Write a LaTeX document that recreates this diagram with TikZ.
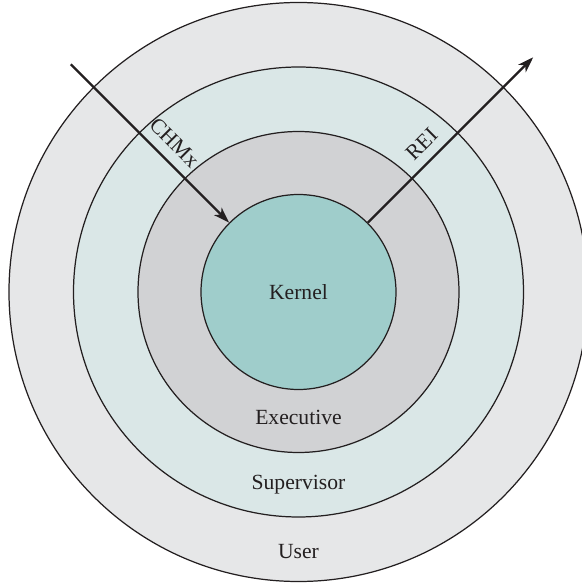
\documentclass[tikz,border=0pt]{standalone}
\usepackage{fontspec}
\setmainfont{Liberation Serif}
\usepackage{tikz}
\usetikzlibrary{arrows.meta,positioning,calc}
\definecolor{ringuser}{RGB}{230,231,232}
\definecolor{ringsup}{RGB}{218,231,231}
\definecolor{ringexe}{RGB}{209,210,212}
\definecolor{ringker}{RGB}{159,205,203}
\definecolor{inkdark}{RGB}{35,31,32}
\tikzset{
  ring/.style={circle, draw=inkdark, line width=0.7pt, inner sep=0pt},
  rtxt/.style={font=\fontsize{12.3}{14}\selectfont, text=inkdark},
  flowarr/.style={-{Stealth[length=9pt,width=6pt,inset=2.5pt]}, inkdark, line width=1.4pt},
}

\begin{document}
\begin{tikzpicture}
    \useasboundingbox (-5.97,-5.82) rectangle (5.65,5.84);
    \node[ring, fill=ringuser, minimum size=11.58cm] (usr) at (0,0) {};
    \node[ring, fill=ringsup, minimum size=9.0cm] (sup) at (0,0) {};
    \node[ring, fill=ringexe, minimum size=6.42cm] (exe) at (0,0) {};
    \node[ring, fill=ringker, minimum size=3.9cm, rtxt] (ker) at (0,0) {Kernel};
    \node[rtxt] (exel) at (0,-2.5) {Executive};
    \node[rtxt] (supl) at (0,-3.86) {Supervisor};
    \node[rtxt] (usrl) at (0,-5.2) {User};
    % in and out of the kernel
    \coordinate (cin) at (135:6.44);
    \coordinate (cout) at (45:6.64);
    \draw[flowarr] (cin) -- node[rtxt, sloped, above=2pt, pos=0.575] (chmx) {CHMx} (ker.135);
    \draw[flowarr] (ker.45) -- node[rtxt, sloped, above=2pt, pos=0.4] (rei) {REI} (cout);
\end{tikzpicture}
\end{document}
